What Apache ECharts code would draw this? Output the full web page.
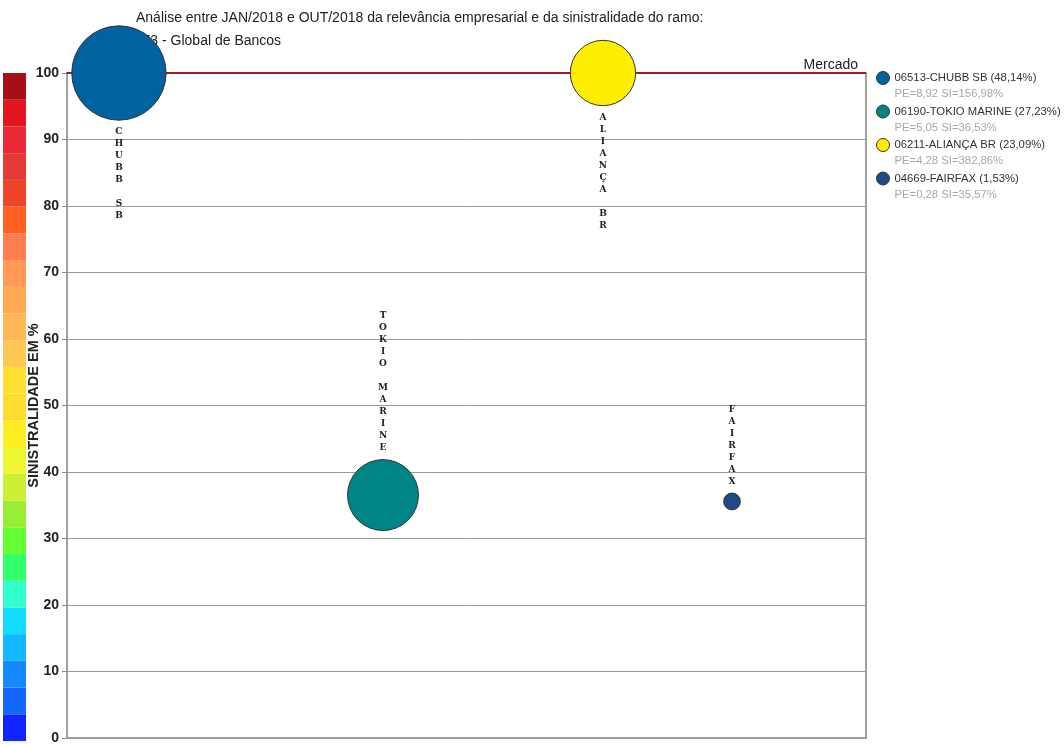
<!DOCTYPE html>
<html>
<head>
<meta charset="utf-8">
<script src="https://cdn.jsdelivr.net/npm/echarts@6/dist/echarts.min.js"></script>
<style>
html,body{margin:0;padding:0;background:#fff;}
#chart{width:1064px;height:745px;}
</style>
</head>
<body>
<div id="chart"></div>
<script>
// ---- data ----
var codes = ['06513', '06190', '06211', '04669'];
var names = ['CHUBB SB', 'TOKIO MARINE', 'ALIANÇA BR', 'FAIRFAX'];
var shares = [48.14, 27.23, 23.09, 1.53];          // participação (%)
var peValues = ['8,92', '5,05', '4,28', '0,28'];
var siValues = [156.98, 36.53, 382.86, 35.57];     // sinistralidade (%)
var xPositions = [6.5, 39.55, 67.08, 83.23];        // horizontal placement
var bubbleColors = ['#0062A0', '#008585', '#FFEE00', '#1F4A85'];
var yTicks = [0, 10, 20, 30, 40, 50, 60, 70, 80, 90, 100];
var mercado = 100;
// colour scale bands (bottom to top, 4 units each)
var bandSize = 4;
var bandColors = ['#1126FF', '#1466FF', '#1488FF', '#14B8FF', '#14DCFF', '#33FFCC', '#33FF6A',
  '#66FF33', '#99EE33', '#CCEE33', '#EEF533', '#FFEE22', '#FFDC30', '#FFE030', '#FFC855',
  '#FFB855', '#FFAA55', '#FF9955', '#FF7F50', '#FF6020', '#F0442A', '#E33A35', '#EA2A3A',
  '#E3151F', '#A50F15'];

function fmtPct(v) { return v.toFixed(2).replace('.', ','); }

var legendLabel = {};
codes.forEach(function (c, i) {
  legendLabel[c + '-' + names[i]] = '{a|' + c + '-' + names[i] + ' (' + fmtPct(shares[i]) + '%)}\n{b|PE=' + peValues[i] + ' SI=' + fmtPct(siValues[i]) + '%}';
});

var series = names.map(function (n, i) {
  var yv = Math.min(siValues[i], mercado);
  var s = {
    name: codes[i] + '-' + n,
    type: 'scatter',
    xAxisIndex: 0, yAxisIndex: 0,
    z: 10,
    data: [[xPositions[i], yv, shares[i]]],
    symbolSize: function (d) { return 13.6 * Math.sqrt(d[2]); },
    itemStyle: { color: bubbleColors[i], borderColor: '#333', borderWidth: 1, opacity: 1 },
    label: {
      show: true,
      position: yv >= mercado ? 'bottom' : 'top',
      distance: 5,
      formatter: function () { return n.split('').join('\n'); },
      fontFamily: 'DejaVu Serif',
      fontWeight: 'bold',
      fontSize: 9,
      lineHeight: 12,
      color: '#222',
      align: 'center'
    },
    emphasis: { disabled: true }
  };
  if (i === 0) {
    s.markLine = {
      silent: true,
      symbol: 'none',
      lineStyle: { color: '#B0151A', width: 2, type: 'solid' },
      label: { show: true, position: 'insideEndTop', formatter: 'Mercado', color: '#222', fontSize: 14, fontFamily: 'Liberation Sans', distance: [8, 1] },
      data: [{ yAxis: mercado }]
    };
  }
  return s;
});

bandColors.forEach(function (c, i) {
  series.push({
    type: 'bar',
    xAxisIndex: 1, yAxisIndex: 1,
    stack: 'scale',
    barWidth: '100%',
    silent: true,
    data: [bandSize],
    itemStyle: { color: c }
  });
});

var titleStyle = { fontFamily: 'Liberation Sans', fontSize: 14, fontWeight: 'normal', color: '#222' };

var option = {
  animation: false,
  backgroundColor: '#fff',
  title: [
    { text: 'Análise entre JAN/2018 e OUT/2018 da relevância empresarial e da sinistralidade do ramo:', left: 136, top: 11, z: 0, padding: 0, textStyle: titleStyle },
    { text: '0173 - Global de Bancos', left: 127, top: 34, z: 0, padding: 0, textStyle: titleStyle }
  ],
  legend: {
    orient: 'vertical',
    left: 876, top: 71,
    padding: 0,
    itemWidth: 13, itemHeight: 13,
    itemGap: 5,
    icon: 'circle',
    selectedMode: false,
    data: codes.map(function (c, i) { return c + '-' + names[i]; }),
    formatter: function (name) { return legendLabel[name]; },
    textStyle: {
      padding: [16, 0, 0, 0],
      rich: {
        a: { fontFamily: 'Liberation Sans', fontSize: 11.3, color: '#333', lineHeight: 16 },
        b: { fontFamily: 'Liberation Sans', fontSize: 11.3, color: '#a8a8a8', lineHeight: 16 }
      }
    },
    itemStyle: { borderColor: '#333', borderWidth: 1 }
  },
  grid: [
    { left: 67, right: 198, top: 73, bottom: 4, show: true, borderColor: '#a0a0a0', borderWidth: 2, backgroundColor: 'transparent' },
    { left: 3, width: 23, top: 73, bottom: 4 }
  ],
  xAxis: [
    { type: 'value', gridIndex: 0, min: 0, max: 100, show: false },
    { type: 'category', gridIndex: 1, data: ['s'], show: false }
  ],
  yAxis: [
    {
      type: 'value', gridIndex: 0, min: 0, max: 100, interval: 10,
      name: 'SINISTRALIDADE EM %', nameLocation: 'middle', nameGap: 26, nameRotate: 90,
      nameMoveOverlap: false,
      nameTextStyle: { fontFamily: 'Liberation Sans', fontWeight: 'bold', fontSize: 14.5, color: '#222' },
      axisLine: { show: true, lineStyle: { color: '#a0a0a0', width: 2 } },
      axisTick: { show: true, length: 5, lineStyle: { color: '#888' } },
      axisLabel: { fontFamily: 'Liberation Sans', fontWeight: 'bold', fontSize: 14, color: '#222', margin: 8,
        formatter: function (v) { return yTicks.indexOf(v) >= 0 ? String(v) : ''; } },
      splitLine: { show: true, lineStyle: { color: '#999', width: 1 } }
    },
    { type: 'value', gridIndex: 1, min: 0, max: 100, show: false }
  ],
  series: series
};

var chart = echarts.init(document.getElementById('chart'), null, { renderer: 'canvas' });
chart.setOption(option);
</script>
</body>
</html>
